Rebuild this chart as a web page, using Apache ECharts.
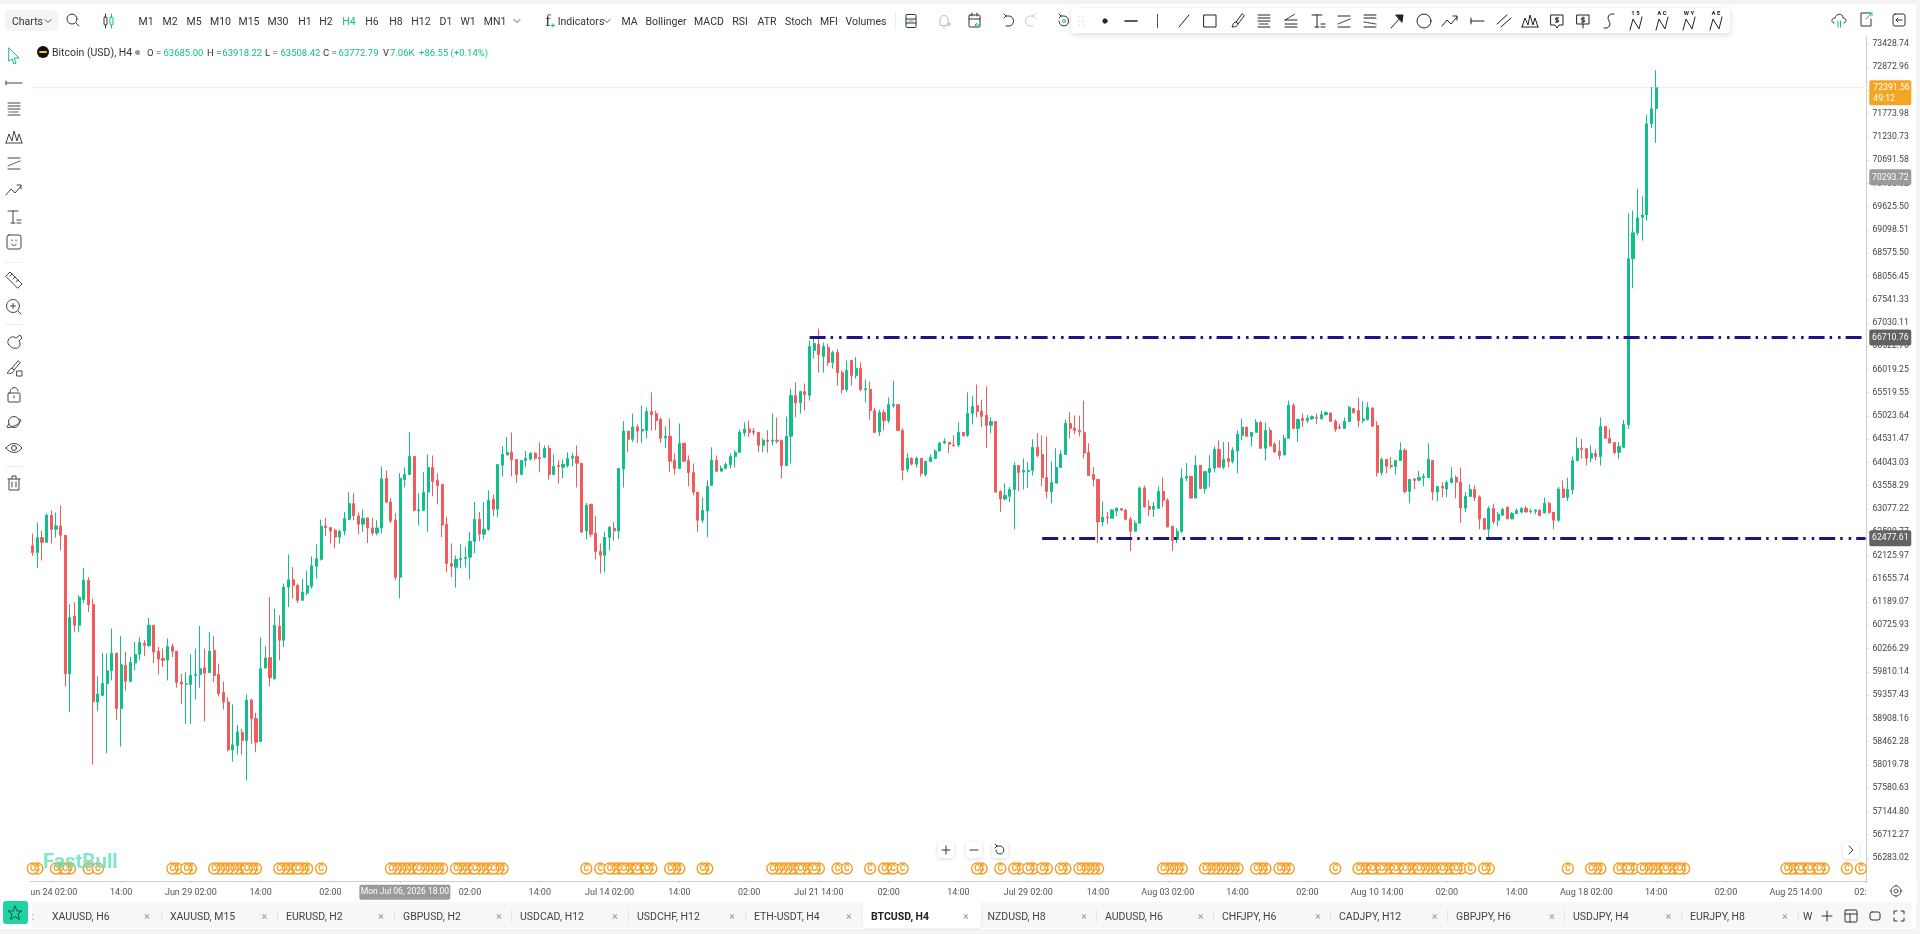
<!DOCTYPE html>
<html><head><meta charset="utf-8">
<style>
html,body{margin:0;padding:0;width:1920px;height:934px;overflow:hidden;background:#fff;font-family:Roboto,Arial,sans-serif;color:#333}
#chart{position:absolute;left:0;top:0;width:1920px;height:934px}
#ui{position:absolute;left:0;top:0;width:1920px;height:934px;pointer-events:none}
#ui div,#ui span{position:absolute;white-space:nowrap}
#ui svg{position:absolute;overflow:visible}
</style>
<script src="https://cdn.jsdelivr.net/npm/echarts@6/dist/echarts.min.js"></script>
</head><body>
<div id="chart"></div><div id="ui"></div>
<script>
const opens=[62326,62188,62490,62394,62948,62661,62729,62538,59771,60905,
60726,61237,61622,61138,59222,59351,59577,59836,60174,59097,
59935,59623,59981,60154,60371,60325,60726,60207,60074,60040,
60305,60213,59609,59570,59564,59740,59758,59890,59796,60227,
59758,59409,59222,58304,58386,58635,58481,59260,58903,58462,
59883,60087,59675,60706,60430,61489,61636,61522,61223,61369,
61503,61910,62050,62729,62696,62635,62503,62627,62866,63188,
62934,62764,62892,62688,62585,62688,63709,63221,62846,61688,
63689,63793,64170,63040,63050,63426,63938,63668,63585,62764,
61965,61890,62045,62065,62092,62414,62866,62559,62661,63276,
63070,63987,64198,64255,64106,63793,64085,64113,64234,64149,
64149,64340,63793,63980,63945,63980,64134,64170,64028,62627,
63174,62579,62208,62133,62497,62682,62627,63910,64703,64531,
64787,64703,64718,65116,65073,64953,64558,64593,64085,63917,
64446,64085,63834,63426,62846,63036,63565,64085,63861,63924,
64001,64170,64255,64662,64745,64697,64676,64403,64510,64489,
64510,64510,63980,64593,65457,65307,65541,65463,66428,66558,
66300,66494,66170,66385,65950,65585,66213,65889,66040,65585,
65591,65137,64683,65095,64926,65243,65265,64718,63903,64128,
64008,64128,63793,64064,64128,64283,64453,64467,64410,64410,
64676,64614,65080,65243,65122,65037,64829,64905,63440,63283,
63338,63482,63980,63841,63855,63876,64361,64212,63730,63440,
63612,63938,64212,64864,64766,64718,64676,64255,63793,63689,
62811,62914,62887,63036,63085,63050,62866,62620,62785,63509,
63132,63070,63091,63440,63256,62723,62455,62620,63716,63751,
63303,63980,63503,63834,63924,64318,63945,64128,64064,64283,
64614,64787,64593,64676,64884,64340,64718,64425,64276,64198,
64552,65250,64759,64968,64926,64961,64995,64961,65052,65088,
64912,64787,64759,64905,65180,65137,64926,64947,65194,64822,
63834,64106,63980,63959,64085,64297,63440,63695,63674,63730,
63730,64085,63426,63544,63488,63627,63730,63633,63097,63338,
63482,63324,62880,62661,63085,62846,62948,63112,62873,62982,
63015,63091,63023,63030,63050,62995,63194,63009,62846,63488,
63317,63475,64078,64340,64333,64134,64234,64170,64801,64552,
64461,64255,64361,64843,68450,69031,69383,69437,71537,71893];
const closes=[62188,62490,62394,62948,62661,62729,62538,59771,60879,60726,
61283,61622,61138,59229,59376,59583,59830,60174,59097,59950,
59629,59995,60154,60385,60331,60726,60200,60060,60034,60305,
60213,59603,59570,59577,59740,59758,59870,59783,60213,59740,
59384,59222,58304,58400,58648,58481,59260,58903,58449,59870,
60080,59694,60726,60430,61489,61636,61522,61223,61383,61516,
61918,62060,62723,62696,62627,62503,62620,62880,63188,62942,
62764,62880,62688,62585,62688,63703,63221,62832,61688,63709,
63793,64170,63050,63060,63420,63938,63647,63565,62750,61965,
61910,62045,62065,62085,62414,62866,62559,62661,63256,63070,
64001,64212,64255,64106,63793,64085,64128,64234,64134,64128,
64340,63793,63959,63959,64001,64128,64170,64028,62606,63153,
62559,62208,62133,62497,62702,62627,63917,64703,64531,64787,
64703,64739,65116,65052,64926,64552,64593,64070,63917,64446,
64070,63834,63426,62846,63050,63544,64085,63861,63917,64001,
64170,64255,64683,64745,64676,64676,64403,64510,64489,64510,
64489,63980,64593,65457,65307,65541,65478,66516,66580,66342,
66516,66170,66385,65950,65585,66000,65889,66040,65585,65606,
65137,64676,65095,64926,65265,65265,64718,63882,64128,64008,
64128,63813,64064,64149,64283,64453,64489,64425,64393,64676,
64600,65080,65222,65122,65016,64822,64905,63426,63283,63358,
63482,63980,63834,63876,63876,64361,64191,63730,63440,63627,
63938,64212,64870,64759,64718,64683,64240,63772,63689,62811,
62907,62897,63056,63091,63056,62866,62620,62785,63509,63118,
63070,63132,63440,63256,62709,62434,62620,63716,63751,63303,
63980,63503,63855,63917,64318,63945,64113,64064,64297,64635,
64787,64593,64676,64884,64340,64718,64389,64261,64191,64552,
65250,64759,64947,64926,64974,65010,64978,65052,65095,64912,
64739,64770,64905,65207,65095,64926,64961,65201,64807,63834,
64106,63966,63959,64085,64297,63440,63689,63668,63730,63751,
64113,63426,63544,63509,63627,63716,63633,63097,63338,63482,
63317,62873,62661,63085,62819,62969,63070,62873,62982,63043,
63085,63015,63036,63056,62942,63194,63003,62846,63488,63317,
63482,64078,64340,64318,64134,64234,64170,64801,64552,64453,
64248,64376,64843,68450,69031,69370,69437,71537,71886,72392];
const highs=[62573,62799,62627,62982,63050,63009,63153,62538,61143,61189,
61323,61878,61688,61257,59720,60180,60168,60660,60174,60509,
60207,60100,60397,60496,60430,60871,60726,60298,60266,60463,
60365,60213,59771,59803,60154,60266,60712,60266,60594,60509,
59970,59623,59319,59176,58782,58705,59370,59288,59014,60483,
60311,61289,61058,60925,61556,62146,61890,61556,61656,61824,
62106,62352,62860,62900,62709,62676,62655,63015,63426,63406,
63003,63064,62900,62900,62846,63960,63876,63297,62989,63820,
63938,64676,64170,63406,63841,64212,64191,63820,63585,62914,
62373,62126,62352,62311,62606,63221,63015,63221,63461,63379,
64001,64382,64579,64676,64106,64085,64283,64261,64261,64467,
64403,64403,64212,64085,64106,64255,64240,64403,64028,63200,
63174,62928,62373,62606,62723,62811,63917,64912,64703,65073,
64843,65243,65207,65526,65137,64990,64801,64968,64234,64864,
64446,64191,64022,63426,63317,63668,64361,64191,63980,64049,
64234,64297,64739,64884,64926,64766,64676,64552,64718,65073,
64990,64510,65010,65606,65743,65563,65715,66645,66731,66905,
66602,66580,66428,66460,66000,66213,66213,66285,66176,65802,
65759,65201,65158,65158,65420,65780,65265,64759,64234,64155,
64170,64128,64085,64212,64318,64474,64552,64474,64614,64890,
64676,65526,65457,65693,65371,65658,64995,64905,63461,63606,
63530,64049,63980,64128,64049,64531,64662,64614,64593,64064,
64340,64297,64947,65101,65031,65031,65350,64446,63945,63689,
63235,63015,63070,63112,63091,63085,62914,62846,63544,63565,
63256,63221,63547,63730,63297,62723,62682,63917,64028,63751,
64191,63980,63855,64191,64382,64510,64474,64474,64361,64718,
64968,64787,64676,64953,64912,64884,64780,64474,64510,64621,
65350,65293,64968,65080,65052,65031,65073,65137,65122,65095,
64947,64864,64990,65243,65180,65420,65335,65314,65201,64912,
64149,64106,64155,64085,64467,64340,63689,63716,63861,63813,
64446,64085,63544,63633,63668,63945,63772,63938,63426,63585,
63565,63358,62880,63132,63188,63015,63105,63132,63015,63085,
63118,63132,63085,63070,63070,63312,63221,63009,63530,63668,
63724,64170,64572,64537,64333,64403,64318,64995,64801,64752,
64461,64474,64940,69474,69535,70035,69856,71750,72399,72795];
const lows=[62120,61878,62025,62394,62367,62490,62229,59526,59025,60588,
60588,61170,60990,58026,59044,59351,58240,59642,58878,58367,
59448,59623,59836,60034,60114,60298,59981,59758,59902,59642,
60100,59500,59190,58800,58800,59274,59500,58850,59796,59609,
59332,59078,58278,58082,58215,58215,57725,58418,58259,58462,
59883,59526,59656,60034,60298,61089,61257,61170,61223,61323,
61457,61656,62025,62517,62367,62276,62367,62538,62846,62846,
62559,62606,62380,62538,62538,62573,63194,62785,61622,61263,
63523,63793,63030,62743,63030,62606,63338,63174,62503,61790,
61688,61483,61864,61884,61642,62173,62421,62455,62627,62928,
62907,63751,64198,63751,63612,63793,63945,64085,64085,63841,
64149,63689,63793,63606,63716,63938,63959,63523,62585,62455,
62503,62045,61763,61790,62229,62434,62462,63523,64261,64474,
64453,64453,64552,64718,64718,64453,64340,63841,63793,63917,
64049,63547,63358,62606,62791,62497,63565,63841,63861,63897,
63917,63938,64240,64593,64579,64614,64261,64261,64248,64403,
64446,63710,63980,64022,64995,65073,65137,65350,66257,65954,
65954,66100,66040,65672,65499,65541,65672,65824,65548,65314,
64947,64662,64600,64718,64870,65201,64703,63668,63841,63980,
63938,63751,63751,64064,64128,64283,64425,64240,64382,64361,
64600,64579,64843,64995,64787,64346,64656,63426,63015,63256,
63221,62661,63447,63482,63509,63772,64149,63547,63297,63194,
63612,63938,64212,64552,64635,64593,64128,63772,63547,62380,
62723,62764,62887,62928,63036,62846,62215,62620,62785,63112,
62928,62914,63091,63118,62702,62215,62380,62579,63654,63303,
63303,63503,63399,63530,63834,63945,63897,63945,64022,63820,
64510,64579,64382,64676,64340,64085,64382,64240,64106,64198,
64552,64745,64474,64787,64870,64940,64857,64961,65031,64891,
64683,64739,64759,64905,65073,64787,64870,64926,64787,63751,
63772,63820,63910,63793,64085,63399,63194,63482,63647,63547,
63730,63256,63235,63317,63324,63606,63297,62791,63015,63324,
63242,62661,62655,62503,62764,62723,62948,62866,62873,62969,
62982,63015,62982,62969,62928,62995,62982,62661,62811,63312,
63242,63379,64078,64121,63980,64049,64085,63980,64545,64439,
64212,64113,64361,64752,67794,68971,68858,69308,71435,71092];
const priceTicks=[73428.74,72872.96,72321.39,71773.98,71230.73,70691.58,70156.52,69625.50,69098.51,68575.50,68056.45,67541.33,67030.11,66522.76,66019.25,65519.55,65023.64,64531.47,64043.03,63558.29,63077.22,62599.77,62125.97,61655.74,61189.07,60725.93,60266.29,59810.14,59357.43,58908.16,58462.28,58019.78,57580.63,57144.80,56712.27,56283.02];
const timeTickIndex=[4,19,34,49,64,79,94,109,124,139,154,169,184,199,214,229,244,259,274,289,304,319,334,349,364,379,394];
const timeTickText=["Jun 24 02:00","14:00","Jun 29 02:00","14:00","02:00","14:00","02:00","14:00","Jul 14 02:00","14:00","02:00","Jul 21 14:00","02:00","14:00","Jul 29 02:00","14:00","Aug 03 02:00","14:00","02:00","Aug 10 14:00","02:00","14:00","Aug 18 02:00","14:00","02:00","Aug 25 14:00","02:00"];
const markerGroups=[[0,2],[5,2],[7,2],[12,1],[14,1],[30,2],[33,2],[39,7],[46,3],[53,4],[57,3],[62,1],[77,6],[83,6],[91,4],[95,4],[99,3],[119,1],[122,1],[124,3],[127,3],[130,2],[132,2],[137,3],[144,2],[159,6],[165,3],[168,2],[173,1],[175,1],[180,1],[183,2],[185,1],[187,1],[203,2],[208,1],[211,2],[214,2],[217,2],[221,2],[225,5],[243,5],[252,8],[263,3],[268,3],[280,1],[285,3],[288,2],[290,3],[293,2],[295,3],[298,5],[303,3],[306,2],[309,1],[312,2],[330,1],[335,3],[341,2],[343,2],[346,5],[351,3],[354,2],[377,3],[380,2],[382,2],[384,2],[390,1],[393,1]];
const resistance=66710.76, support=62477.61, lastPrice=72391.56, crossPrice=70293.72;
const resistanceFrom=167, supportFrom=217, crossIndex=80;
const yMin=55856, yMax=73604, markerPrice=56088, totalBars=395;

const categories=new Array(totalBars).fill('');
timeTickIndex.forEach((n,i)=>{categories[n]=timeTickText[i]});
const candles=opens.map((o,i)=>[o,closes[i],lows[i],highs[i]]);
const markerData=[];
markerGroups.forEach(g=>{for(let i=g[1]-1;i>=0;i--)markerData.push([g[0]+i,markerPrice])});

const UP='#10bf89',DOWN='#f25b5b',NAVY='#1d1585';
const dash=[16,5,2.5,6,2.5,5];
const rr=(w,h,r)=>`path://M${r},0H${w-r}a${r},${r} 0 0 1 ${r},${r}V${h-r}a${r},${r} 0 0 1 -${r},${r}H${r}a${r},${r} 0 0 1 -${r},-${r}V${r}a${r},${r} 0 0 1 ${r},-${r}Z`;
const lineItem=(from,price)=>[{coord:[from,price],lineStyle:{color:NAVY,width:3,type:dash}},{coord:[totalBars-1,price]}];
const tag=(price,text,bg)=>({coord:[totalBars-1,price],symbol:rr(42,16,2),symbolKeepAspect:false,symbolSize:[42,16],symbolOffset:[24.7,0],
  itemStyle:{color:bg},label:{show:true,position:'inside',formatter:text,color:'#fff',fontSize:8.7,fontFamily:'Roboto'}});

const chart=echarts.init(document.getElementById('chart'),null,{renderer:'canvas'});
chart.setOption({
  animation:false,
  grid:{left:30.4,width:1837.5,top:36.5,height:844.7,containLabel:false},
  xAxis:{type:'category',data:categories,boundaryGap:true,
    axisLine:{lineStyle:{color:'#cfcfcf',width:1}},
    axisTick:{show:true,alignWithLabel:true,length:2,interval:(i,v)=>v!=='',lineStyle:{color:'#cfcfcf'}},
    axisLabel:{interval:(i,v)=>v!=='',hideOverlap:false,color:'#555',fontSize:9,fontFamily:'Roboto',margin:7.5},
    splitLine:{show:false}},
  yAxis:{type:'log',logBase:10,min:yMin,max:yMax,position:'right',offset:-1.5,scale:true,
    axisLine:{show:true,lineStyle:{color:'#cfcfcf',width:1}},
    axisTick:{show:true,length:2,customValues:priceTicks,lineStyle:{color:'#cfcfcf'}},
    axisLabel:{customValues:priceTicks,formatter:v=>Number(v).toFixed(2),color:'#444',fontSize:8.7,fontFamily:'Roboto',margin:6,padding:[2.5,0,0,0]},
    splitLine:{show:false}},
  series:[
   {type:'candlestick',data:candles,barWidth:2.6,
    itemStyle:{color:UP,color0:DOWN,borderColor:UP,borderColor0:DOWN,borderWidth:1},
    markLine:{silent:true,symbol:'none',animation:false,label:{show:false},
      data:[lineItem(resistanceFrom,resistance),lineItem(supportFrom,support),
        [{coord:[0,lastPrice],lineStyle:{color:'#f6c88e',width:1,type:[1,2]}},{coord:[totalBars-1,lastPrice]}]]},
    markPoint:{silent:true,animation:false,data:[
      {coord:[totalBars-1,lastPrice],symbol:rr(42,25,2),symbolKeepAspect:false,symbolSize:[42,25],symbolOffset:[24.7,5.5],itemStyle:{color:'#f5a524'},
       label:{show:true,position:[4,2],align:'left',verticalAlign:'top',formatter:lastPrice.toFixed(2)+'\n49:12',color:'#fff',fontSize:8.7,lineHeight:11,fontFamily:'Roboto'}},
      tag(crossPrice,crossPrice.toFixed(2),'#9a9a9a'),
      tag(resistance,resistance.toFixed(2),'#636363'),
      tag(support,support.toFixed(2),'#636363'),
      {coord:[crossIndex,yMin],symbol:rr(91,15,2),symbolKeepAspect:false,symbolSize:[91,15],symbolOffset:[0,11],itemStyle:{color:'#9a9a9a'},
       label:{show:true,position:'inside',formatter:'Mon Jul 06, 2026 18:00',color:'#fff',fontSize:8.5,fontFamily:'Roboto'}}
    ]}},
   {type:'scatter',data:markerData,symbol:'circle',symbolSize:11,silent:true,z:3,
    itemStyle:{color:'#fff',borderColor:'#f39c1f',borderWidth:1.4,opacity:1},
    label:{show:true,position:'inside',formatter:'C',color:'#f39c1f',fontSize:8.5,fontWeight:'bold',fontFamily:'Roboto'}}
  ]
});

/* ---------- surrounding application chrome ---------- */
const ui=document.getElementById('ui');
function box(x,y,w,h,bg,extra){const d=document.createElement('div');d.style.cssText=`left:${x}px;top:${y}px;width:${w}px;height:${h}px;background:${bg};${extra||''}`;ui.appendChild(d);return d}
function txt(x,y,s,o){o=o||{};const d=document.createElement('span');d.textContent=s;
  d.style.cssText=`left:${x}px;top:${y}px;transform:translate(${o.left?'0':'-50%'},-50%);font-size:${o.size||10.5}px;color:${o.color||'#333'};font-weight:${o.weight||400};font-family:${o.font||'Roboto'};letter-spacing:${o.ls||0}px`;
  ui.appendChild(d);return d}
function ico(x,y,body,stroke,sw){const s=document.createElementNS('http://www.w3.org/2000/svg','svg');s.setAttribute('width',20);s.setAttribute('height',20);s.setAttribute('viewBox','-10 -10 20 20');
  s.style.left=(x-10)+'px';s.style.top=(y-10)+'px';s.innerHTML=`<g fill="none" stroke="${stroke||'#333'}" stroke-width="${sw||1}" stroke-linecap="round" stroke-linejoin="round">${body}</g>`;ui.appendChild(s)}
box(0,0,1920,4,'#f2f2f2');
box(1916,0,4,934,'#f4f4f4');
box(0,882,31,20,'#fff');
box(1866.5,882.5,50,20,'#fff');
box(0,929,1920,5,'#f4f4f4');

// top bar
box(5,10,53,21,'#f5f5f5','border-radius:4px');
txt(12,21,'Charts',{left:1});
ico(48,21,'<path d="M-3 -1.5L0 1.5L3 -1.5"/>','#555');
ico(73,20,'<circle cx="-1" cy="-1" r="5"/><path d="M3 3L6 6"/>');
ico(106,21,'<rect x="-2" y="-4" width="3" height="8" rx="1"/><path d="M-.5 -7V-4M-.5 4V7"/>');
ico(112,21,'<rect x="-2" y="-4" width="3" height="8" rx="1"/><path d="M-.5 -7V-4M-.5 4V7"/>','#10bf89');
const tfNames=['M1','M2','M5','M10','M15','M30','H1','H2','H4','H6','H8','H12','D1','W1','MN1'];
const tfX=[146,170,194,220.5,249,278,305,326,349,372,396,421,446,468,495];
tfNames.forEach((s,i)=>txt(tfX[i],21,s,{color:s==='H4'?'#10bf89':'#333'}));
ico(517,21,'<path d="M-3 -1.5L0 1.5L3 -1.5"/>','#555');
txt(548,21,'f',{size:16,font:'Liberation Serif',weight:400});
txt(553,25,'+',{size:8,color:'#10bf89',weight:700});
txt(581,21,'Indicators');
ico(607,21,'<path d="M-3 -1.5L0 1.5L3 -1.5"/>','#555');
[['MA',629.5],['Bollinger',666],['MACD',709],['RSI',740],['ATR',767],['Stoch',798.5],['MFI',829],['Volumes',866]].forEach(a=>txt(a[1],21,a[0]));
box(894.5,12,1,18,'#ededed');
ico(910.6,21,'<rect x="-5" y="-6.5" width="10" height="13" rx="1"/><path d="M-5 -2H5M-5 2H5"/><path d="M-2 0H2" stroke="#10bf89"/>');
ico(944,21,'<path d="M-4 4V-1C-4 -7 4 -7 4 -1V4ZM-1 6H1"/><path d="M3 3H7M5 1V5"/>','#bdbdbd');
ico(975,21,'<rect x="-6" y="-6" width="11" height="12" rx="1"/><path d="M-6 -2H5M-3 -8V-5M2 -8V-5"/><path d="M5 4H0M2 2L0 4L2 6" stroke="#10bf89"/>');
ico(1009,21,'<path d="M-3 -5H0C6 -5 6 5 0 5H-3M-3 -5L-5 -3M-3 -5L-5 -7"/>');
ico(1030,21,'<path d="M3 -5H0C-6 -5 -6 5 0 5H3M3 -5L5 -3M3 -5L5 -7"/>','#c8c8c8');
ico(1064,21,'<path d="M-3 -5H0C6 -5 6 5 0 5C-3 5 -5 3 -5 0M-3 -5L-5 -3M-3 -5L-5 -7"/><circle r="1.5" stroke="#10bf89"/>');
// floating drawing bar
box(1071,8,659,25,'#fff','border-radius:4px;box-shadow:0 2px 6px rgba(0,0,0,.14)');
ico(1081,21,'<path d="M-2 -4H-2M2 -4H2M-2 0H-2M2 0H2M-2 4H-2M2 4H2"/>','#aaa');
ico(1104.5,21,'<circle r="2.2" fill="#222"/>');
ico(1131,21,'<path d="M-6 0H6"/>','#222',1.5);
box(1157,14,1,14,'#555');
const D={
 line:'<path d="M-5 6L5 -6"/>',rect:'<rect x="-6" y="-6" width="12" height="12"/>',
 brush:'<path d="M5 -7L-1 1L1 3L7 -5ZM-1 1C-4 1 -4 4 -5 6C-2 6 1 5 1 3"/>',
 fib:'<path d="M-6 -6H6M-6 -3H6M-6 0H6M-6 6H6"/><path d="M-5 3H5" stroke-dasharray="1 1"/>',
 fan:'<path d="M-6 3H6M-6 6H6M-6 -1H6"/><path d="M-6 -1L4 -7" stroke-dasharray="1 1"/>',
 text:'<path d="M-6 -6H4M-1 -6V6M-3 6H1M3 3H7M3 6H7"/>',
 chan:'<path d="M-6 -5H6M-6 6H6"/><path d="M-6 3L6 -2" stroke-dasharray="1 1"/>',
 chan2:'<path d="M-6 -6H6M-6 -3H6M-6 6H6"/><path d="M-6 1L6 3" stroke-dasharray="1 1"/>',
 arrow:'<path d="M-6 7L5 -5"/><path d="M-1 -6L6 -6L5 1Z" fill="#222"/>',
 circ:'<circle r="7"/>',zig:'<path d="M-8 5L-3 -1L1 3L7 -4M3 -5H7V-1"/>',
 tline:'<path d="M-6 -3V3M-6 0H7"/>',par:'<path d="M-7 3L3 -6M-3 6L7 -3"/>',
 peaks:'<path d="M-8 6L-5 -3L-2 4L0 -6L3 4L5 -3L8 6M-8 6H8"/>',
 sbub:'<path d="M-6 -6H6V4H2L0 7L-2 4H-6Z"/><path d="M0 -3.5V1.5M1.5 -3H-1C-2 -3 -2 -1 -1 -1H1C2 -1 2 1 1 1H-1.5"/>',
 sbox:'<path d="M-6 -6H6V3H-6ZM0 3V7"/><path d="M0 -4V1.5M1.5 -3H-1C-2 -3 -2 -1 -1 -1H1C2 -1 2 1 1 1H-1.5"/>',
 scurve:'<path d="M5 -7C-1 -8 -2 -3 0 0C2 3 1 8 -5 7"/>',
 wave:'<path d="M-6 7L-3 -4L3 6L6 -6"/>'
};
[['line',1183.5],['rect',1210],['brush',1237],['fib',1264],['fan',1291],['text',1318],['chan',1344],['chan2',1370],['arrow',1397],['circ',1423.5],['zig',1450],['tline',1477],['par',1504],['peaks',1529.5],['sbub',1557],['sbox',1583],['scurve',1609]].forEach(a=>ico(a[1],21,D[a[0]],'#222'));
[['1 5',1635.5],['A C',1662],['W Y',1689],['A E',1716]].forEach(a=>{ico(a[1],23,D.wave,'#222');txt(a[1],12,a[0],{size:6,weight:700,color:'#222'})});
ico(1839,20,'<path d="M-5 3C-8 3 -8 -2 -4 -2C-3 -7 4 -7 4 -2C8 -2 8 3 5 3"/><path d="M-1 1V7M1.5 1V7" stroke="#10bf89"/>');
ico(1866,20,'<path d="M4 -7H-5V6H5V-1"/><path d="M0 -1L6 -7M3 -7H6V-4" stroke="#10bf89"/>');
ico(1899,20,'<rect x="-6" y="-6" width="12" height="12" rx="2"/><path d="M3 0H-3M-1 -2L-3 0L-1 2"/>');

// legend line
box(37,46,12,12,'#111','border-radius:50%');
box(39,51,8,2,'#f5c518','border-radius:1px');
txt(52,52,'Bitcoin (USD), H4',{left:1,size:10.5});
box(134.5,49.5,5,5,'#999','border-radius:50%');
const G='#10bf89';
[['O =',147,'#333'],['63685.00',163.5,G],['H =',207,'#333'],['63918.22',222.3,G],['L =',265,'#333'],['63508.42',280.5,G],['C =',323,'#333'],['63772.79',338.6,G],['V',383,'#333'],['7.06K',390,G],['+86.55 (+0.14%)',419,G]].forEach(a=>txt(a[1],52,a[0],{left:1,size:9.5,color:a[2]}));

// left tool rail
const L={
 arrow:'<path d="M-5 -8L5 2L0 2L2 7L0 8L-2 3L-5 5Z"/>',
 hline:'<path d="M-8 0H8M-8 -2V2"/>',fib:D.fib,peaks:D.peaks,chan:D.chan,zig:D.zig,text:D.text,
 face:'<rect x="-7" y="-7" width="14" height="14" rx="2"/><path d="M-2 -2V-1M2 -2V-1M-2.5 2C-1 4 1 4 2.5 2"/>',
 ruler:'<path d="M-8 -4L-4 -8L8 4L4 8ZM-4 -4L-2 -6M-1 -1L1 -3M2 2L4 0"/>',
 zoom:'<circle cx="-1" cy="-1" r="6.5"/><path d="M4 4L7 7M-3.5 -1H1.5M-1 -3.5V1.5"/>',
 mag:'<path d="M-5 3C-9 -1 -3 -8 2 -4L6 -7L8 -4L5 -1C9 5 1 10 -5 3Z"/>',
 lbrush:'<path d="M4 -7L-2 0L0 2L6 -5ZM-2 0C-5 1 -5 4 -7 5C-3 6 0 5 0 2"/><rect x="3" y="3" width="5" height="5"/>',
 lock:'<rect x="-6" y="-2" width="12" height="9" rx="1"/><path d="M-4 -2C-4 -9 4 -9 4 -4M0 1V3"/>',
 planet:'<circle r="5.5"/><path d="M-5 2C-9 6 -7 7 0 4C7 1 9 -3 5 -3"/>',
 eye:'<path d="M-8 0C-4 -6 4 -6 8 0C4 6 -4 6 -8 0Z"/><circle r="2.5"/>',
 trash:'<path d="M-6 -4H6M-2 -4V-7H2V-4M-5 -4V7H5V-4M-2 -1V4M2 -1V4"/>'
};
[['arrow',56,'#10bf89'],['hline',83],['fib',109],['peaks',137],['chan',163],['zig',190],['text',217],['face',242],['ruler',280],['zoom',307],['mag',342],['lbrush',368],['lock',395],['planet',422],['eye',448],['trash',483]].forEach(a=>ico(14,a[1],L[a[0]],a[2]||'#444'));
[262,324,466].forEach(y=>box(5,y,18,1,'#eee'));

// watermark
txt(43,861,'FastBull',{left:1,size:20.5,weight:700,color:'rgba(95,225,190,.8)',font:'Roboto'});

// zoom buttons
[[946,'<path d="M-4 0H4M0 -4V4"/>'],[973.5,'<path d="M-4 0H4"/>'],[1000,'<path d="M-3 -4H0C5 -4 5 4 0 4C-3 4 -4 2 -4 0M-3 -4L-5 -2M-3 -4L-5 -6"/>']].forEach(a=>{box(a[0]-8,842,16,16,'#fff','border-radius:3px;box-shadow:0 1px 4px rgba(0,0,0,.15)');ico(a[0],850,a[1],'#333')});
box(1843,842,16,17,'#fff','border-radius:3px;box-shadow:0 1px 4px rgba(0,0,0,.15)');
ico(1851,850,'<path d="M-2 -4L2 0L-2 4"/>');
ico(1896,891,'<circle r="2"/><circle r="5"/><path d="M0 -6V-5M0 5V6M-6 0H-5M5 0H6"/>','#555');

// tab strip
box(32,902,1879,26,'#f7f7f7','border-radius:4px');
box(3,901,24.5,23,'#1fd3a3','border-radius:3px');
ico(15,912.5,'<path d="M0 -7L2 -2L7 -2L3 1L4.5 6.5L0 3.5L-4.5 6.5L-3 1L-7 -2L-2 -2Z"/>','#0b5c47');
box(863,902,118,26,'#fff','border-radius:3px;box-shadow:0 1px 3px rgba(0,0,0,.08)');
txt(33,916,':',{size:10,color:'#888'});
const tabs=[['XAUUSD, H6',52,147],['XAUUSD, M15',170,264.5],['EURUSD, H2',286,381],['GBPUSD, H2',403,499],['USDCAD, H12',520,615],['USDCHF, H12',637,732],['ETH-USDT, H4',754,849],['BTCUSD, H4',871,966],['NZDUSD, H8',987.5,1084],['AUDUSD, H6',1105,1200.7],['CHFJPY, H6',1222,1318],['CADJPY, H12',1339,1434.6],['GBPJPY, H6',1456,1552],['USDJPY, H4',1573,1668.5],['EURJPY, H8',1690,1785]];
tabs.forEach(t=>{const on=t[0]==='BTCUSD, H4';txt(t[1],916,t[0],{left:1,size:10.5,weight:on?700:400,color:on?'#222':'#444'});txt(t[2],916,'×',{size:11,color:'#999'});if(!on&&t[0]!=='XAUUSD, H6'&&t[0]!=='NZDUSD, H8')box(t[1]-9,910,1,12,'#e4e4e4')});
box(1797.7,910,1,12,'#e4e4e4');
txt(1803,916,'W',{left:1,size:10.5,color:'#444'});
box(1813,903,8,24,'#f7f7f7');
ico(1827,916,'<path d="M-5 0H5M0 -5V5"/>');
ico(1851,916,'<rect x="-6" y="-6" width="12" height="12" rx="1"/><path d="M-6 -2H6M-1 -2V6"/>');
ico(1875,916,'<rect x="-5" y="-4" width="10" height="8" rx="2"/>');
ico(1899,916,'<path d="M-5 -2V-5H-2M2 -5H5V-2M5 2V5H2M-2 5H-5V2"/>');
</script>
</body></html>
